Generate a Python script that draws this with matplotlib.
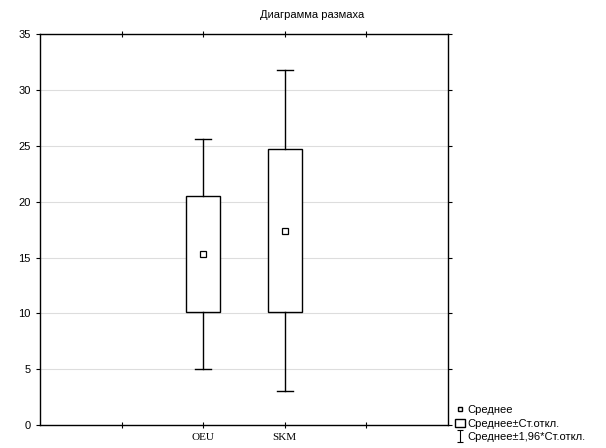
import matplotlib
matplotlib.use("Agg")
import matplotlib.pyplot as plt
from matplotlib.lines import Line2D
from matplotlib.patches import Rectangle
from matplotlib.path import Path

groups = ["OEU", "SKM"]
group_pos = [2, 3]
means = [15.3, 17.4]
box_low = [10.1, 10.1]      # mean - SD
box_high = [20.5, 24.7]     # mean + SD
whisk_low = [5.0, 3.1]      # mean - 1.96*SD
whisk_high = [25.6, 31.8]   # mean + 1.96*SD

plt.rcParams["font.family"] = ["Liberation Sans", "DejaVu Sans"]

fig = plt.figure(figsize=(6.06, 4.48), dpi=100)
ax = fig.add_axes([0.066, 0.051, 0.673, 0.873])

box_w = 0.42
cap_w = 0.2
for x, m, bl, bh, wl, wh in zip(group_pos, means, box_low, box_high, whisk_low, whisk_high):
    ax.add_patch(Rectangle((x - box_w / 2, bl), box_w, bh - bl,
                           facecolor="white", edgecolor="black", lw=1, zorder=3))
    ax.plot([x, x], [bh, wh], color="black", lw=1, zorder=3)
    ax.plot([x, x], [wl, bl], color="black", lw=1, zorder=3)
    ax.plot([x - cap_w / 2, x + cap_w / 2], [wh, wh], color="black", lw=1, zorder=3)
    ax.plot([x - cap_w / 2, x + cap_w / 2], [wl, wl], color="black", lw=1, zorder=3)
    ax.plot([x], [m], marker="s", ms=4, mfc="white", mec="black", mew=0.9, ls="none", zorder=4)

ax.set_xlim(0, 5)
ax.set_ylim(0, 35)
ax.set_yticks(range(0, 36, 5))
ax.set_xticks([1, 2, 3, 4])
ax.set_xticklabels(["", groups[0], groups[1], ""], family="Liberation Serif", fontsize=8)
ax.tick_params(axis="y", labelsize=8, direction="out", length=3)
ax.tick_params(axis="x", direction="inout", length=4, top=True)
ax.tick_params(axis="y", right=True)
ax.yaxis.grid(True, color="#dddddd", lw=0.8)
ax.set_axisbelow(True)
for s in ax.spines.values():
    s.set_linewidth(1.0)

fig.text(0.515, 0.955, "Диаграмма размаха", ha="center", va="bottom", fontsize=8)

# I-beam marker for the whisker legend entry
ibeam = Path([(-0.5, -1), (0.5, -1), (0, -1), (0, 1), (-0.5, 1), (0.5, 1)],
             [Path.MOVETO, Path.LINETO, Path.MOVETO, Path.LINETO, Path.MOVETO, Path.LINETO])

handles = [
    Line2D([], [], marker="s", ms=3.5, mfc="white", mec="black", ls="none"),
    Rectangle((0, 0), 1, 1, facecolor="white", edgecolor="black"),
    Line2D([], [], marker=ibeam, ms=8, mfc="none", mec="black", mew=0.8, ls="none"),
]
labels = ["Среднее", "Среднее±Ст.откл.", "Среднее±1,96*Ст.откл."]
ax.legend(handles, labels, loc="lower left", bbox_to_anchor=(1.0, -0.06),
          frameon=False, fontsize=8, handlelength=0.9, handletextpad=0.3,
          labelspacing=0.3, borderaxespad=0.2)

fig.savefig("out.png", dpi=100)
